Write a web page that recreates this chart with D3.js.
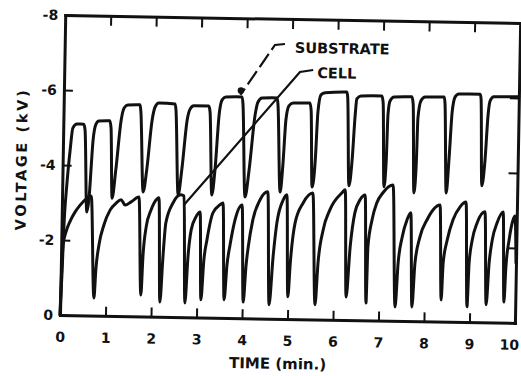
<!DOCTYPE html>
<html>
<head>
<meta charset="utf-8">
<script src="https://cdn.jsdelivr.net/npm/d3@7"></script>
<style>
  html, body { margin: 0; padding: 0; background: #fff; }
  svg { display: block; }
  text { font-family: "DejaVu Sans", sans-serif; font-weight: bold; fill: #111; }
</style>
</head>
<body>
<div id="chart"></div>
<script>
// 1. Data  (time in min, voltage in kV)
const substrate = [
  [0,0],[0.03,-1.2],[0.05,-2.27],[0.10,-3.47],[0.16,-4.41],[0.21,-4.99],[0.30,-5.10],[0.45,-5.10],
  [0.48,-4.94],[0.55,-2.76],[0.59,-3.08],[0.66,-4.68],[0.72,-5.11],[0.78,-5.19],[1.02,-5.20],
  [1.05,-5.01],[1.10,-3.14],[1.17,-3.89],[1.27,-5.23],[1.33,-5.55],[1.41,-5.63],[1.68,-5.64],
  [1.70,-5.45],[1.78,-3.32],[1.85,-3.91],[1.95,-5.24],[2.01,-5.59],[2.09,-5.70],[2.45,-5.68],
  [2.47,-5.52],[2.55,-3.26],[2.62,-3.92],[2.72,-5.26],[2.78,-5.55],[2.86,-5.64],[3.19,-5.64],
  [3.22,-5.48],[3.29,-3.27],[3.35,-3.94],[3.42,-5.41],[3.48,-5.81],[3.56,-5.89],[3.92,-5.90],
  [3.94,-5.71],[4.02,-3.23],[4.10,-3.96],[4.21,-5.42],[4.27,-5.77],[4.36,-5.88],[4.69,-5.89],
  [4.71,-5.70],[4.79,-3.38],[4.84,-4.10],[4.89,-5.31],[4.95,-5.68],[5.04,-5.76],[5.41,-5.77],
  [5.44,-5.58],[5.49,-3.53],[5.55,-4.25],[5.59,-5.53],[5.65,-5.99],[5.74,-6.05],[6.22,-6.08],
  [6.24,-5.92],[6.30,-3.58],[6.36,-4.27],[6.41,-5.47],[6.44,-5.90],[6.53,-5.98],[6.99,-5.99],
  [7.02,-5.81],[7.07,-3.57],[7.11,-4.29],[7.13,-5.49],[7.17,-5.86],[7.26,-5.97],[7.65,-5.98],
  [7.68,-5.79],[7.73,-3.42],[7.77,-4.17],[7.79,-5.42],[7.85,-5.88],[7.94,-5.98],[8.36,-5.99],
  [8.38,-5.81],[8.44,-3.43],[8.49,-4.37],[8.54,-5.60],[8.60,-6.00],[8.68,-6.08],[9.15,-6.08],
  [9.17,-5.96],[9.22,-3.64],[9.28,-4.33],[9.33,-5.53],[9.37,-5.91],[9.45,-6.02],[10,-6.03]
];

const cell = [
  [0,0],[0.01,-0.67],[0.04,-1.87],[0.10,-2.22],[0.18,-2.49],[0.29,-2.75],[0.40,-2.94],[0.53,-3.11],
  [0.64,-3.19],[0.74,-0.47],[0.77,-1.22],[0.83,-1.89],[0.93,-2.42],[1.06,-2.82],[1.19,-3.01],
  [1.30,-3.10],[1.39,-2.96],[1.52,-3.05],[1.69,-3.18],[1.77,-0.57],[1.80,-1.59],[1.86,-2.39],
  [1.96,-2.84],[2.09,-3.14],[2.13,-3.17],[2.19,-0.39],[2.24,-1.60],[2.29,-2.50],[2.44,-3.04],
  [2.61,-3.26],[2.68,-3.23],[2.74,-0.38],[2.79,-1.61],[2.85,-2.33],[2.95,-2.68],[3.04,-2.81],
  [3.09,-0.47],[3.14,-1.53],[3.20,-2.07],[3.32,-2.79],[3.47,-3.01],[3.54,-3.06],[3.60,-0.48],
  [3.65,-1.41],[3.71,-1.95],[3.81,-2.62],[3.96,-3.02],[4.02,-0.43],[4.07,-1.42],[4.11,-1.90],
  [4.20,-2.62],[4.35,-3.16],[4.52,-3.38],[4.59,-0.37],[4.66,-1.65],[4.73,-2.55],[4.86,-3.17],
  [4.94,-3.31],[5.00,-0.59],[5.04,-1.49],[5.13,-2.56],[5.30,-3.10],[5.51,-3.37],[5.60,-0.39],
  [5.65,-1.51],[5.75,-2.39],[5.89,-2.93],[6.15,-3.39],[6.22,-3.47],[6.28,-0.61],[6.35,-1.95],
  [6.44,-2.86],[6.55,-3.21],[6.66,-3.34],[6.72,-0.46],[6.74,-1.96],[6.82,-2.68],[6.92,-3.14],
  [7.05,-3.41],[7.27,-3.62],[7.36,-0.37],[7.41,-1.54],[7.49,-2.24],[7.59,-2.70],[7.67,-2.89],
  [7.73,-0.38],[7.78,-1.55],[7.88,-2.25],[8.03,-2.71],[8.16,-2.98],[8.31,-3.11],[8.37,-0.58],
  [8.40,-1.57],[8.48,-2.18],[8.60,-2.72],[8.75,-3.07],[8.88,-3.20],[8.94,-0.41],[8.97,-1.58],
  [9.03,-2.19],[9.13,-2.65],[9.30,-2.95],[9.36,-0.47],[9.41,-1.59],[9.47,-2.20],[9.57,-2.66],
  [9.70,-2.95],[9.75,-0.55],[9.78,-1.49],[9.84,-2.21],[9.92,-2.75],[9.96,-2.85],[10,-1.6]
];

const xTicks = [0, 1, 2, 3, 4, 5, 6, 7, 8, 9, 10];
const innerXTicks = [1, 2, 3, 4, 5, 6, 7, 8, 9];
const yTicks = [0, -2, -4, -6, -8];
const yTickLabels = ["0", "-2", "-4", "-6", "-8"];
const innerYTicks = [-2, -4, -6];
const xLabel = "TIME (min.)";
const yLabel = "VOLTAGE (kV)";

// annotation labels and their leader lines (data units)
const seriesLabels = ["SUBSTRATE", "CELL"];
const labelPos = [[5.06, -7.10], [5.56, -6.44]];
const substrateLeader = [[4.84, -7.33], [4.62, -7.30], [3.88, -5.95]];
const cellLeader = [[5.47, -6.65], [5.18, -6.59], [2.68, -2.99]];
const substrateArrowDot = [3.89, -6.07];

// 2. Dimensions
const dims = {
  width: 521,
  height: 376,
  margin: { top: 15, right: 6, bottom: 61, left: 60 },
};
dims.right = dims.width - dims.margin.right;
dims.bottom = dims.height - dims.margin.bottom;

// 3. Container (scan is turned about 1 degree clockwise)
const svg = d3
  .select("#chart")
  .append("svg")
  .attr("width", dims.width)
  .attr("height", dims.height);

const container = svg
  .append("g")
  .attr("transform", `rotate(1, ${dims.margin.left}, ${dims.bottom})`);

// 4. Scales
const xScale = d3.scaleLinear().domain([0, 10]).range([dims.margin.left, dims.right]);
const yScale = d3.scaleLinear().domain([0, -8]).range([dims.bottom, dims.margin.top]);

// 5. Axes
const ink = "#111";
function styleAxis(g, fontSize) {
  g.attr("font-size", fontSize);
  g.select(".domain").attr("stroke", ink).attr("stroke-width", 3).attr("stroke-linecap", "square");
  g.selectAll(".tick line").attr("stroke", ink).attr("stroke-width", 2);
}

const xAxisGroup = container
  .append("g")
  .attr("transform", `translate(0,${yScale(0)})`)
  .call(
    d3.axisBottom(xScale).tickValues(xTicks).tickSizeInner(-9).tickSizeOuter(0)
      .tickPadding(17).tickFormat((d) => d)
  )
  .call(styleAxis, 14);

// last label sits right at the edge of the sheet
xAxisGroup
  .selectAll(".tick text")
  .filter((d) => d === 10)
  .attr("text-anchor", "end")
  .attr("dx", 4);

container
  .append("g")
  .attr("transform", `translate(${xScale(0)},0)`)
  .call(
    d3.axisLeft(yScale).tickValues(yTicks).tickSizeInner(-9).tickSizeOuter(0)
      .tickPadding(7).tickFormat((d, i) => yTickLabels[i])
  )
  .call(styleAxis, 14);

container
  .append("g")
  .attr("transform", `translate(0,${yScale(-8)})`)
  .call(d3.axisTop(xScale).tickValues(innerXTicks).tickSizeInner(-10).tickSizeOuter(0).tickFormat(""))
  .call(styleAxis, 14);

container
  .append("g")
  .attr("transform", `translate(${xScale(10)},0)`)
  .call(d3.axisRight(yScale).tickValues(innerYTicks).tickSizeInner(-9).tickSizeOuter(0).tickFormat(""))
  .call(styleAxis, 14);

// axis titles
container
  .append("text")
  .attr("transform", `translate(${dims.margin.left - 36},${yScale(-4) - 4}) rotate(-90)`)
  .attr("text-anchor", "middle")
  .attr("font-size", 14.5)
  .attr("textLength", 140)
  .attr("lengthAdjust", "spacing")
  .text(yLabel);

container
  .append("text")
  .attr("x", xScale(4.8))
  .attr("y", yScale(0) + 50)
  .attr("text-anchor", "middle")
  .attr("font-size", 15)
  .text(xLabel);

// 6. Draw
const lineGenerator = d3
  .line()
  .x((d) => xScale(d[0]))
  .y((d) => yScale(d[1]))
  .curve(d3.curveMonotoneX);

[substrate, cell].forEach((series) => {
  container
    .append("path")
    .datum(series)
    .attr("d", lineGenerator)
    .attr("fill", "none")
    .attr("stroke", ink)
    .attr("stroke-width", 3)
    .attr("stroke-linejoin", "round")
    .attr("stroke-linecap", "round");
});

// annotations
const leaderLine = d3.line().x((d) => xScale(d[0])).y((d) => yScale(d[1]));

container
  .append("path")
  .datum(substrateLeader)
  .attr("d", leaderLine)
  .attr("fill", "none")
  .attr("stroke", ink)
  .attr("stroke-width", 2.2)
  .attr("stroke-dasharray", "16,5");

container
  .append("circle")
  .attr("cx", xScale(substrateArrowDot[0]))
  .attr("cy", yScale(substrateArrowDot[1]))
  .attr("r", 3.3)
  .attr("fill", ink);

container
  .append("path")
  .datum(cellLeader)
  .attr("d", leaderLine)
  .attr("fill", "none")
  .attr("stroke", ink)
  .attr("stroke-width", 2.2);

container
  .selectAll(".series-label")
  .data(seriesLabels)
  .join("text")
  .attr("class", "series-label")
  .attr("x", (d, i) => xScale(labelPos[i][0]))
  .attr("y", (d, i) => yScale(labelPos[i][1]))
  .attr("font-size", 14.5)
  .text((d) => d);
</script>
</body>
</html>
